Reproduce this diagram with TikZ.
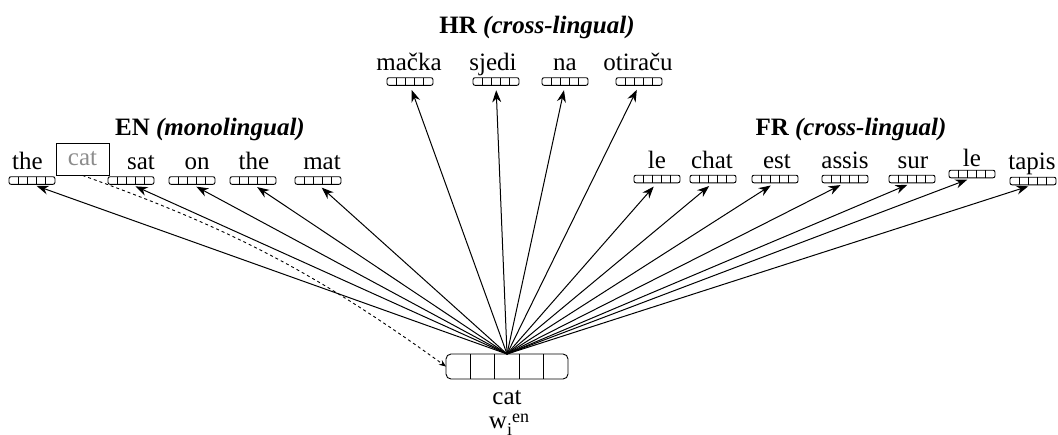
\documentclass[tikz,border=0pt]{standalone}
\usepackage{fontspec}
\setmainfont{Liberation Serif}
\usetikzlibrary{arrows.meta,calc}

\tikzset{
	vec/.style={draw, rounded corners=1pt, minimum width=23pt, minimum height=3.8pt, inner sep=0pt, outer sep=0pt, line width=0.45pt},
	bigvec/.style={vec, rounded corners=2.5pt, minimum width=61pt, minimum height=12.5pt},
	word/.style={anchor=base, inner sep=0pt, font=\fontsize{12.5}{15}\selectfont},
	head/.style={anchor=base, inner sep=0pt, font=\fontsize{12.5}{15}\selectfont\bfseries},
	link/.style={-{Stealth[length=6pt,width=4.5pt]}, shorten >=2.5pt, line width=0.5pt},
}

% cell dividers of a word vector
\newcommand{\cells}[1]{%
	\foreach \k in {1,...,4}
		\draw[line width=0.45pt] ($(#1.north west)!\k/5!(#1.north east)$) -- ($(#1.south west)!\k/5!(#1.south east)$);
}

\begin{document}
\begin{tikzpicture}[x=0.5pt, y=-0.5pt]
	\useasboundingbox (0,0) rectangle (1058,434);

	% Headings
	\node[head] (hEN) at (210,135) {EN \textit{(monolingual)}};
	\node[head] (hHR) at (537,33) {HR \textit{(cross-lingual)}};
	\node[head] (hFR) at (851,135) {FR \textit{(cross-lingual)}};

	% Centre word
	\node[bigvec] (wcat) at (507,366.5) {};
	\cells{wcat}
	\coordinate (src) at (wcat.north);
	\node[word] (lcat) at (507,404) {cat};
	\node[word] (lw) at (509,428) {w\raisebox{-0.3em}{\fontsize{9}{9}\selectfont i}\raisebox{0.22em}{\fontsize{9}{9}\selectfont en}};

	% EN context
	\node[draw, inner sep=0pt, minimum width=26.5pt, minimum height=16pt, text=black!45,
		font=\fontsize{12.5}{15}\selectfont] (e2) at (82.5,159) {cat};
	\foreach \n/\t/\tx/\vx in {e1/the/27.5/32, e3/sat/141/131, e4/on/197/192, e5/the/254/253, e6/mat/322/318}
	{
		\node[word] (\n) at (\tx,169) {\t};
		\node[vec] (\n v) at (\vx,180.5) {};
		\cells{\n v}
		\draw[link] (src) -- (\n v.south);
	}

	% HR
	\foreach \n/\t/\tx/\vx in {h1/mačka/409/410, h2/sjedi/493/496, h3/na/565/565, h4/otiraču/638/639}
	{
		\node[word] (\n) at (\tx,70) {\t};
		\node[vec] (\n v) at (\vx,81.5) {};
		\cells{\n v}
		\draw[link] (src) -- (\n v.south);
	}

	% FR
	\foreach \n/\t/\tx/\vx/\b/\vy in {f1/le/657/657/168/179, f2/chat/712/713/168/179, f3/est/777/775/168/179,
		f4/assis/845/845/168/179, f5/sur/913/912/168/179, f6/le/972/972/166/174, f7/tapis/1032/1033/169/181}
	{
		\node[word] (\n) at (\tx,\b) {\t};
		\node[vec] (\n v) at (\vx,\vy) {};
		\cells{\n v}
		\draw[link] (src) -- (\n v.south);
	}

	% masked word
	\draw[dash pattern=on 1.5pt off 1.5pt, line width=0.45pt, -{Stealth[length=3.5pt,width=2.8pt]}]
		(e2.south) to[bend left=8] (wcat.west);
\end{tikzpicture}
\end{document}
